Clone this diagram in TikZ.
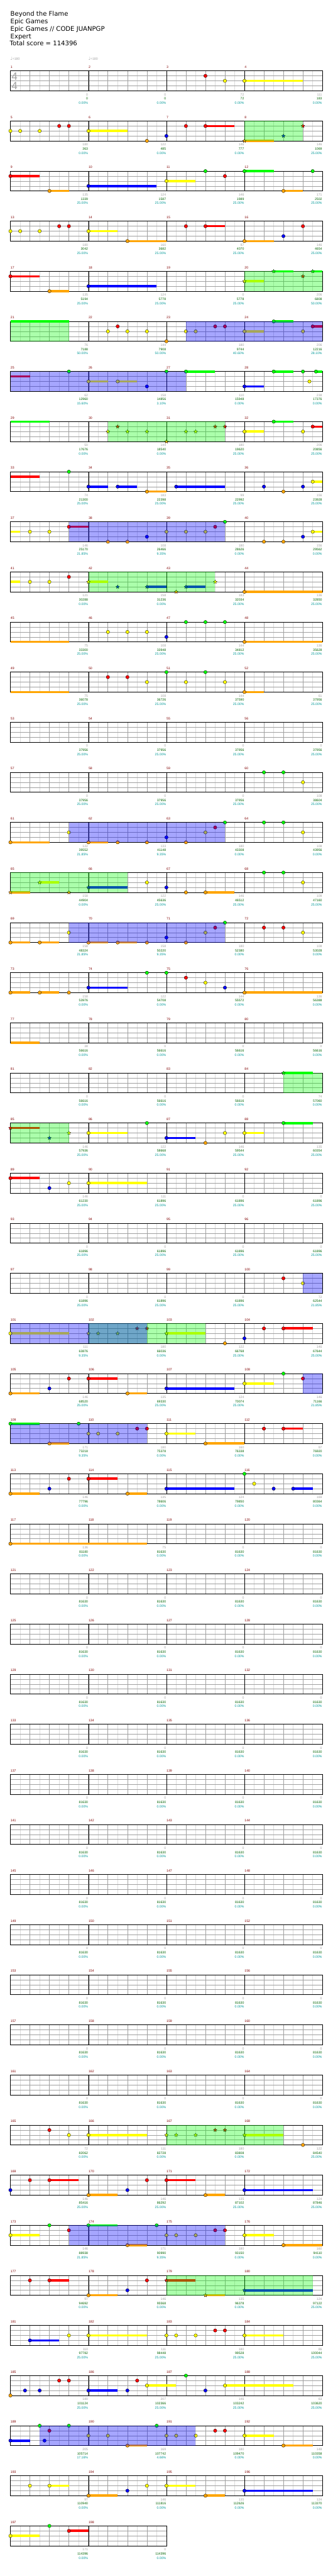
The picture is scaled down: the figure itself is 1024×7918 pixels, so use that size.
\documentclass[tikz,border=0pt]{standalone}
\usepackage{fontspec}
\usepackage{tikz}
\usetikzlibrary{shapes.geometric}
\newfontfamily\hdfont{DejaVu Sans}
\newfontfamily\lbfont{Liberation Sans}
\definecolor{lane0}{RGB}{0,255,0}
\definecolor{lane1}{RGB}{255,0,0}
\definecolor{lane2}{RGB}{255,255,0}
\definecolor{lane3}{RGB}{0,0,255}
\definecolor{lane4}{RGB}{255,165,0}
\definecolor{subgray}{RGB}{220,220,220}
\definecolor{midgray}{RGB}{160,160,160}
\definecolor{numred}{RGB}{128,0,0}
\definecolor{statgreen}{RGB}{0,100,0}
\definecolor{statteal}{RGB}{0,153,153}

% lanes: 0 green, 1 red, 2 yellow, 3 blue, 4 orange; positions in beats along a row
\newcommand\gems[2]{\foreach \qL/\qA in {#2}{\filldraw[gem, fill=lane\qL] ({32+60*\qA},{218+154*#1+15.25*\qL}) circle[radius=5.25];}}
\newcommand\stars[2]{\foreach \qL/\qA in {#2}{\node[stargem, fill=lane\qL] at ({32+60*\qA},{218+154*#1+15.25*\qL}) {};}}
\newcommand\holds[2]{\foreach \qL/\qA/\qB in {#2}{\draw[hold, draw=lane\qL] ({32+60*\qA},{218+154*#1+15.25*\qL}) -- ({32+60*\qB},{218+154*#1+15.25*\qL});}}
\newcommand\spz[3]{\fill[spzone] ({32+60*#2},{218+154*#1}) rectangle ({32+60*#3},{279+154*#1});}
\newcommand\solz[3]{\fill[solzone] ({32+60*#2},{218+154*#1}) rectangle ({32+60*#3},{279+154*#1});}
\newcommand\stat[4]{%
  \pgfmathtruncatemacro\sr{(#1-1)/4}%
  \pgfmathtruncatemacro\sk{#1-1-4*\sr}%
  \pgfmathsetmacro\sx{31+240*(\sk+1)}%
  \pgfmathsetmacro\sy{218+154*\sr}%
  \node[statA] at (\sx,\sy+76) {#2};
  \node[statB] at (\sx,\sy+89) {#3};
  \node[statC] at (\sx,\sy+102) {#4\%};
}

\begin{document}
\begin{tikzpicture}[
    x=1pt, y=-1pt,
    subl/.style={draw=subgray, line width=1pt},
    beatl/.style={draw=midgray, line width=1pt},
    barl/.style={draw=black, line width=0.8pt},
    staffbox/.style={draw=black, line width=1.2pt},
    gem/.style={draw=black, line width=0.6pt},
    stargem/.style={star, star points=5, star point ratio=2.2, draw=black, line width=0.5pt, minimum size=12pt, inner sep=0pt},
    hold/.style={line width=7pt},
    spzone/.style={fill=lane0, fill opacity=0.33},
    solzone/.style={fill=lane3, fill opacity=0.35},
    hdr/.style={anchor=base west, inner sep=0pt, font=\hdfont\fontsize{19.5}{23}\selectfont},
    tempo/.style={anchor=base west, inner sep=0pt, text=midgray, font=\lbfont\fontsize{10}{12}\selectfont},
    tsig/.style={anchor=base west, inner sep=0pt, text=midgray, font=\lbfont\fontsize{33}{33}\selectfont},
    mnum/.style={anchor=base west, inner sep=0pt, text=numred, font=\lbfont\fontsize{10}{12}\selectfont},
    statA/.style={anchor=base east, inner sep=0pt, text=midgray, font=\lbfont\fontsize{10}{12}\selectfont},
    statB/.style={statA, text=statgreen},
    statC/.style={statA, text=statteal}
]
\fill[white] (0,0) rectangle (1024,7918);
\useasboundingbox (0,0) rectangle (1024,7918);

% header
\node[hdr] (title) at (32,49) {Beyond the Flame};
\node[hdr] (artist) at (32,72.5) {Epic Games};
\node[hdr] (charter) at (32,95.5) {Epic Games // CODE JUANPGP};
\node[hdr] (level) at (32,118) {Expert};
\node[hdr] (total) at (30,141) {Total score = 114396};
\node[tempo] (bpmA) at (32,185.5) {{\hdfont\fontsize{13}{13}\selectfont ♩}=180};
\node[tempo] (bpmB) at (272,185.5) {{\hdfont\fontsize{13}{13}\selectfont ♩}=180};

% staves
\foreach \r in {0,...,49}{
  \pgfmathsetmacro\rowT{218+154*\r}
  \pgfmathtruncatemacro\nm{\r==49 ? 2 : 4}
  \pgfmathtruncatemacro\nsub{8*\nm-1}
  \pgfmathtruncatemacro\nbeat{4*\nm-1}
  \pgfmathtruncatemacro\nbar{\nm-1}
  \foreach \k in {1,3,...,\nsub} \draw[subl] ({32+30*\k},\rowT) -- ++(0,61);
  \foreach \i in {1,2,3} \draw[beatl] (32,{\rowT+15.25*\i}) -- ++({240*\nm},0);
  \foreach \k in {1,...,\nbeat} \draw[beatl] ({32+60*\k},\rowT) -- ++(0,61);
  \foreach \k in {1,...,\nbar} \draw[barl] ({32+240*\k},\rowT) -- ++(0,61);
  \draw[staffbox] (32,\rowT) rectangle ++({240*\nm},61);
  \foreach \k in {0,...,\nbar}{
    \pgfmathtruncatemacro\mn{4*\r+\k+1}
    \node[mnum] at ({32.5+240*\k},{\rowT-8}) {\mn};
  }
}
\node[tsig] (tsigA) at (35.5,245.5) {4};
\node[tsig] (tsigB) at (35.5,276) {4};

% notes
\holds{0}{2/12/15}
\gems{0}{1/10, 2/11, 2/12}

\holds{1}{2/4/6, 1/10/11.5, 4/12/13.5}
\gems{1}{2/0, 2/0.5, 2/1.5, 1/2.5, 1/3, 2/4, 4/7, 3/8, 1/9, 1/10}
\stars{1}{4/12, 3/14, 1/15}
\spz{1}{12}{15}

\holds{2}{1/0/1.5, 4/2/3, 3/4/7.5, 2/8/9.5, 0/12/13.5, 4/14/15}
\gems{2}{1/0, 4/2, 3/4, 2/8, 0/10, 1/11, 0/12, 4/14, 0/15.5}

\holds{3}{2/4/5.5, 4/6/8, 1/10/11, 4/12/13.5}
\gems{3}{2/0, 2/0.5, 2/1.5, 1/2.5, 1/3, 2/4, 4/6, 1/9, 1/10, 4/12, 3/14, 1/15}

\holds{4}{1/0/1.5, 4/2/3, 3/4/7.5, 2/12/13, 0/13.5/14.5, 0/15.5/16}
\gems{4}{1/0, 4/2, 3/4}
\stars{4}{2/12, 0/13.5, 1/15, 0/15.5}
\spz{4}{12}{16}

\holds{5}{0/0/3, 2/12/13, 0/13.5/14.5, 1/15.5/16}
\gems{5}{2/5, 1/5.5, 2/6, 2/7, 4/8, 2/9, 2/9.5, 1/10.5, 1/11, 2/12, 0/13.5, 2/15, 1/15.5}
\spz{5}{0}{3}
\solz{5}{9}{16}

\holds{6}{1/0/1, 2/4/5, 2/5.5/6.5, 0/9/10.5, 3/12/13, 0/13.5/14.5, 0/15.667/16}
\gems{6}{0/3, 2/4, 2/5.5, 3/7, 0/8, 0/9, 3/12, 0/13.5, 0/15, 2/15.333, 0/15.667}
\solz{6}{0}{9}

\holds{7}{0/0/2, 2/12/13, 0/13.5/14.5, 1/15.5/16}
\stars{7}{2/5, 1/5.5, 2/6, 2/7, 4/8, 2/9, 2/9.5, 1/10.5, 1/11}
\gems{7}{2/12, 0/13.5, 2/15, 1/15.5}
\spz{7}{5}{11}

\holds{8}{1/0/1.5, 3/4/5, 3/5.5/6.5, 4/7/8, 3/8.5/11, 2/15.5/16}
\gems{8}{0/3, 3/4, 3/5.5, 4/7, 3/8.5, 3/13, 4/14, 3/15, 2/15.5}

\holds{9}{2/0/0.5, 1/3/4, 2/15.5/16}
\gems{9}{2/1, 2/2, 1/3, 4/5, 4/6, 3/7, 2/8, 2/9, 2/10, 1/10.5, 0/11, 4/13, 4/14, 3/15, 2/15.5}
\solz{9}{3}{11}

\holds{10}{2/0/0.5, 2/4/5, 3/7/8, 3/9/10, 4/12/16}
\gems{10}{2/1, 2/2, 1/3, 4/12}
\stars{10}{2/4, 3/5.5, 3/7, 4/8.5, 3/9, 2/10.5}
\spz{10}{4}{10.5}

\holds{11}{4/0/3, 4/12/16}
\gems{11}{2/5, 2/6, 2/7, 3/8, 0/9, 0/10, 0/11, 4/12}

\holds{12}{4/0/3, 4/12/13}
\gems{12}{1/5, 1/6, 2/7, 0/8, 2/9, 0/10, 2/11, 4/12}

\gems{14}{0/13, 0/14, 2/15}

\holds{15}{4/0/2, 4/4/5}
\gems{15}{4/0, 2/3, 4/4, 4/5.5, 4/7, 3/8, 4/9, 2/10, 1/10.5, 0/11, 0/13, 0/14, 2/15}
\solz{15}{3}{11}

\holds{16}{4/0/1, 2/1.5/2.5, 3/4/6, 4/10/11.5}
\stars{16}{4/0, 2/1.5, 4/3, 3/4}
\gems{16}{2/7, 3/8, 4/9, 4/10, 0/13, 0/14, 2/15}
\spz{16}{0}{6}

\holds{17}{4/0/1, 4/1.5/2.5, 4/4/5, 4/5.5/6.5}
\gems{17}{4/0, 4/1.5, 2/3, 4/4, 4/5.5, 4/7, 3/8, 4/9, 2/10, 1/10.5, 0/11, 1/13, 1/14, 2/15}
\solz{17}{3}{11}

\holds{18}{4/0/1, 4/1.5/2.5, 3/4/6, 4/12/16}
\gems{18}{4/0, 4/1.5, 4/3, 3/4, 0/7, 0/8, 1/9, 2/10, 3/11, 4/12}

\holds{19}{4/0/1.5}

\holds{20}{0/14/15.5}
\stars{20}{0/14}
\spz{20}{14}{16}

\holds{21}{1/0/1.5, 2/4/6, 3/8/9.5, 2/12/13, 0/14/15.5}
\stars{21}{1/0, 3/2, 2/3}
\gems{21}{2/4, 0/7, 3/8, 4/10, 2/11, 2/12, 0/14}
\spz{21}{0}{3}

\holds{22}{1/0/1.5, 2/4/7}
\gems{22}{1/0, 3/2, 2/3, 2/4}

\gems{24}{1/14, 2/15}
\solz{24}{15}{16}

\holds{25}{2/0/3, 2/8/10, 1/14/15.5}
\gems{25}{2/0, 4/11, 3/12, 1/13, 1/14}
\stars{25}{2/4, 2/4.5, 2/5.5, 1/6.5, 1/7, 2/8}
\spz{25}{4}{10}
\solz{25}{0}{7}

\holds{26}{4/0/1.5, 1/4/5.5, 4/6/7, 3/8/11.5, 2/12/13.5}
\gems{26}{4/0, 3/2, 1/3, 1/4, 4/6, 3/8, 2/12, 0/14, 1/15}
\solz{26}{15}{16}

\holds{27}{0/0/1.5, 4/2/3, 2/8/9.5, 4/10/12, 1/14/15}
\gems{27}{0/0, 4/2, 0/3.5, 2/4, 2/4.5, 2/5.5, 1/6.5, 1/7, 2/8, 4/10, 1/13, 1/14}
\solz{27}{0}{7}

\holds{28}{4/0/1.5, 1/4/5.5, 4/6/7, 3/8/11.5, 3/14.5/15.5}
\gems{28}{4/0, 3/2, 1/3, 1/4, 4/6, 3/8, 0/12, 2/12.5, 3/13.5, 3/14.5}

\holds{29}{4/0/7}
\gems{29}{4/0}

\holds{41}{2/4/7, 2/12/14}
\gems{41}{1/2, 2/3, 2/4, 4/15}
\stars{41}{2/8, 2/8.5, 2/9.5, 1/10.5, 1/11, 2/12}
\spz{41}{8}{14}

\holds{42}{1/2/3.5, 4/4/5.5, 1/8/9.5, 4/10/11, 3/12/15.5}
\gems{42}{3/0, 1/1, 1/2, 4/4, 3/6, 1/7, 1/8, 4/10, 3/12}

\holds{43}{2/0/1.5, 0/4/5.5, 4/6/7, 2/12/13.5, 4/14/16}
\gems{43}{2/0, 0/2, 1/3, 0/4, 4/6, 0/7.5, 2/8, 2/8.5, 2/9.5, 1/10.5, 1/11, 2/12, 4/14}
\solz{43}{3}{11}

\holds{44}{1/2/3, 4/4/5.5, 1/8/9.5, 4/10/11, 3/12/15.5}
\gems{44}{1/1, 1/2, 4/4, 3/6, 1/7}
\stars{44}{1/8, 4/10, 3/12}
\spz{44}{8}{15.5}

\holds{45}{3/1/2.5, 2/4/7, 2/12/14}
\gems{45}{3/1, 2/3, 2/4, 2/8, 2/8.5, 2/9.5, 1/10.5, 1/11, 2/12}

\holds{46}{3/4/5.5, 2/7/8.5, 2/11/14.5}
\gems{46}{4/0, 3/0.75, 3/1.5, 1/2.5, 1/3, 3/4, 3/6, 1/6.5, 2/7, 0/9, 3/10, 2/11}

\holds{47}{3/0/1, 4/6/7, 2/12/13.5, 4/14/15.5}
\gems{47}{3/0, 0/1.5, 3/1.75, 1/2, 0/3, 2/4, 2/5, 4/6, 0/7.5, 2/8, 2/8.5, 2/9.5, 1/10.5, 1/11, 2/12, 4/14}
\solz{47}{1.5}{9.5}

\holds{48}{2/2/3, 4/4/5.5, 2/8/9.5, 4/10/11, 3/12/15.5}
\gems{48}{2/1, 2/2, 4/4, 3/6, 2/7, 2/8, 4/10, 3/12}

\holds{49}{2/0/1.5, 1/3/4}
\gems{49}{2/0, 0/2, 1/3}

% scores under each measure
\foreach \qM/\qG/\qS/\qP in {1/0/0/0.00, 2/0/0/0.00, 3/72/72/0.00, 4/111/183/0.00,
  5/180/363/0.00, 6/122/485/0.00, 7/146/777/0.00, 8/146/1069/25.00,
  9/135/1339/25.00, 10/124/1587/25.00, 11/146/1989/25.00, 12/171/2502/25.00,
  13/180/3042/25.00, 14/160/3682/25.00, 15/97/4070/25.00, 16/146/4654/25.00,
  17/135/5194/25.00, 18/124/5778/25.00, 19/0/5778/25.00, 20/206/6808/50.00,
  21/76/7188/50.00, 22/144/7908/50.00, 23/180/9744/40.60, 24/206/12216/28.10,
  25/62/12960/15.60, 26/158/14856/3.10, 27/110/15948/0.00, 28/238/17376/0.00,
  29/50/17676/0.00, 30/144/18540/0.00, 31/180/19620/25.00, 32/206/20856/25.00,
  33/74/21300/25.00, 34/183/22398/25.00, 35/99/22992/25.00, 36/156/23928/25.00,
  37/146/25170/21.85, 38/108/26466/9.35, 39/180/28626/0.00, 40/156/29562/0.00,
  41/121/30288/0.00, 42/158/31236/0.00, 43/183/32034/25.00, 44/136/32850/25.00,
  45/75/33300/25.00, 46/108/33948/25.00, 47/144/34812/25.00, 48/136/35628/25.00,
  49/75/36078/25.00, 50/108/36726/25.00, 51/144/37590/25.00, 52/61/37956/25.00,
  60/108/38604/25.00,
  61/122/39552/21.85, 62/133/41148/9.35, 63/180/43308/0.00, 64/108/43956/0.00,
  65/158/44904/0.00, 66/122/45636/25.00, 67/146/46512/25.00, 68/108/47160/25.00,
  69/158/48324/21.85, 70/158/50220/9.35, 71/180/52380/0.00, 72/108/53028/0.00,
  73/158/53976/0.00, 74/122/54708/0.00, 75/144/55572/0.00, 76/136/56388/0.00,
  77/38/56616/0.00, 84/74/57060/0.00,
  85/146/57936/25.00, 86/122/58668/25.00, 87/146/59544/25.00, 88/135/60354/25.00,
  89/146/61230/25.00, 90/111/61896/25.00, 100/72/62544/21.85,
  101/111/63876/9.35, 102/180/66036/0.00, 103/122/66768/25.00, 104/146/67644/25.00,
  105/146/68520/25.00, 106/135/69330/25.00, 107/124/70074/25.00, 108/146/71166/21.85,
  109/171/73218/9.35, 110/180/75378/0.00, 111/160/76338/0.00, 112/97/76920/0.00,
  113/146/77796/0.00, 114/135/78606/0.00, 115/124/79850/0.00, 116/169/80364/0.00,
  117/136/81180/0.00, 118/75/81630/0.00,
  165/72/82062/0.00, 166/111/82728/0.00, 167/180/83808/0.00, 168/122/84540/25.00,
  169/146/85416/25.00, 170/146/86292/25.00, 171/135/87102/25.00, 172/124/87846/25.00,
  173/146/88938/21.85, 174/171/90990/9.35, 175/180/93150/0.00, 176/160/94110/0.00,
  177/97/94692/0.00, 178/146/95568/0.00, 179/135/96378/0.00, 180/124/97122/25.00,
  181/110/97782/25.00, 182/111/98448/25.00, 183/180/99528/25.00, 184/86/100044/25.00,
  185/180/101124/25.00, 186/207/102366/25.00, 187/146/103242/25.00, 188/63/103620/25.00,
  189/205/105714/17.16, 190/169/107742/4.66, 191/180/109470/0.00, 192/148/110358/0.00,
  193/97/110940/0.00, 194/146/111816/0.00, 195/135/112626/0.00, 196/124/113370/0.00,
  197/171/114396/0.00, 198/0/114396/0.00}{\stat{\qM}{\qG}{\qS}{\qP}}
\foreach \qM in {53,...,59}{\stat{\qM}{0}{37956}{25.00}}
\foreach \qM in {78,...,83}{\stat{\qM}{0}{56616}{0.00}}
\foreach \qM in {91,...,99}{\stat{\qM}{0}{61896}{25.00}}
\foreach \qM in {119,...,164}{\stat{\qM}{0}{81630}{0.00}}
\end{tikzpicture}
\end{document}
